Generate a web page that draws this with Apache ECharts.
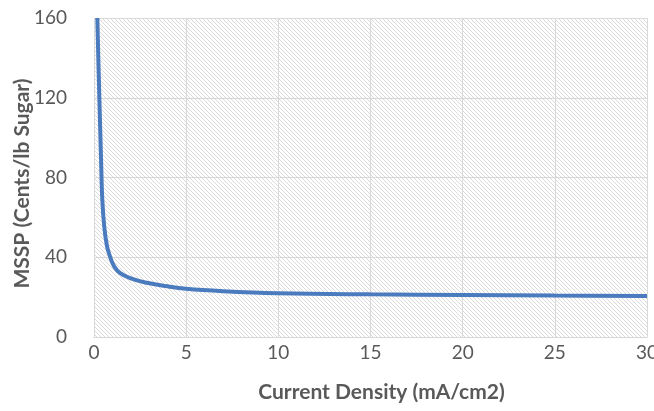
<!DOCTYPE html>
<html>
<head>
<meta charset="utf-8">
<script src="https://cdn.jsdelivr.net/npm/echarts@6/dist/echarts.min.js"></script>
<style>
    html, body { margin: 0; padding: 0; background: #fff; }
    #chart { width: 654px; height: 411px; }
</style>
</head>
<body>
<div id="chart"></div>
<script>
    // current density (mA/cm2) and MSSP (cents/lb sugar)
    var density = [0.18, 0.29, 0.38, 0.45, 0.56, 0.71, 0.87, 1.1, 1.42, 1.96, 2.78, 3.87, 5, 7, 10, 15, 20, 25, 30];
    var mssp = [160, 120, 90, 69, 55, 45.3, 40.3, 35.3, 32, 29.5, 27.3, 25.6, 24.2, 23, 22, 21.4, 21.1, 20.8, 20.6];
    var xTicks = [0, 5, 10, 15, 20, 25, 30];
    var yTicks = [0, 40, 80, 120, 160];

    var points = [];
    for (var i = 0; i < density.length; i++) {
        points.push([density[i], mssp[i]]);
    }

    // fine diagonal hatch for the plot background
    var tile = document.createElement('canvas');
    tile.width = 4;
    tile.height = 4;
    var ctx = tile.getContext('2d');
    ctx.fillStyle = '#ffffff';
    ctx.fillRect(0, 0, 4, 4);
    ctx.fillStyle = '#dadada';
    for (var k = 0; k < 4; k++) {
        ctx.fillRect(k, k, 1, 1);
    }

    var font = 'Lato, "Open Sans", sans-serif';
    var myChart = echarts.init(document.getElementById('chart'));
    var option = {
        animation: false,
        grid: {
            left: 94, right: 7, top: 18, bottom: 74,
            outerBoundsMode: 'none',
            containLabel: false,
            show: true,
            backgroundColor: {image: tile, repeat: 'repeat'},
            borderWidth: 0
        },
        xAxis: {
            type: 'value',
            min: xTicks[0],
            max: xTicks[xTicks.length - 1],
            interval: 5,
            name: 'Current Density (mA/cm2)',
            nameLocation: 'middle',
            nameGap: 45,
            nameMoveOverlap: false,
            nameTextStyle: {fontFamily: font, fontSize: 21, fontWeight: 'bold', color: '#595959', padding: [0, 0, 0, 22]},
            axisLine: {show: true, lineStyle: {color: '#d9d9d9'}},
            axisTick: {show: false},
            axisLabel: {fontFamily: font, fontSize: 19, color: '#595959', margin: 6},
            splitLine: {show: true, lineStyle: {color: '#d9d9d9', width: 1}}
        },
        yAxis: {
            type: 'value',
            min: yTicks[0],
            max: yTicks[yTicks.length - 1],
            interval: 40,
            name: 'MSSP (Cents/lb Sugar)',
            nameLocation: 'middle',
            nameGap: 61,
            nameMoveOverlap: false,
            nameTextStyle: {fontFamily: font, fontSize: 21, fontWeight: 'bold', color: '#595959', padding: [0, 12, 0, 0]},
            axisLine: {show: false},
            axisTick: {show: false},
            axisLabel: {fontFamily: font, fontSize: 19, color: '#595959', margin: 27},
            splitLine: {show: true, lineStyle: {color: '#d9d9d9', width: 1}}
        },
        series: [{
            type: 'line',
            data: points,
            smooth: 0.4,
            showSymbol: false,
            lineStyle: {color: '#4a7bbf', width: 4}
        }]
    };
    myChart.setOption(option);
</script>
</body>
</html>
